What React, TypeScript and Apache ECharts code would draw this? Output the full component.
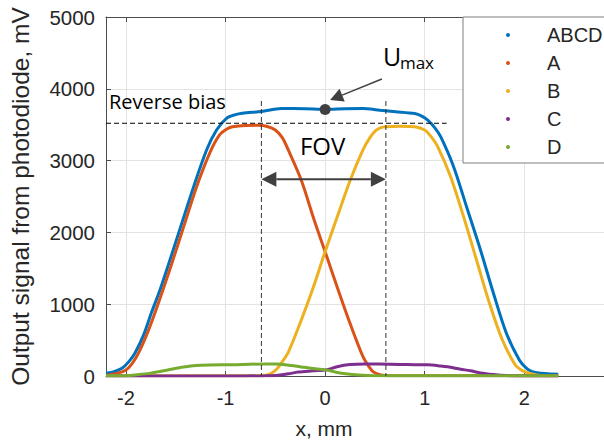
import { useEffect, useRef } from "react";
import * as echarts from "echarts";

// Signal profiles [x (mm), signal (mV)] for the summed channel and each quadrant
const seriesNames = ["ABCD", "A", "B", "C", "D"];
const seriesColors = ["#0072BD", "#D95319", "#EDB120", "#7E2F8E", "#77AC30"];

const abcd: [number, number][] = [
  [-2.2, 40], [-2.12, 60], [-2.04, 107], [-1.97, 200], [-1.91, 316], [-1.82, 580],
  [-1.745, 877], [-1.66, 1190], [-1.58, 1522], [-1.45, 2080], [-1.32, 2637],
  [-1.19, 3148], [-1.09, 3426], [-0.99, 3589], [-0.9, 3640], [-0.83, 3659],
  [-0.64, 3685], [-0.44, 3725], [-0.2, 3722], [0, 3714], [0.2, 3722], [0.38, 3725],
  [0.55, 3700], [0.71, 3681], [0.9, 3655], [0.97, 3620], [1.03, 3565], [1.1, 3460],
  [1.16, 3333], [1.29, 2915], [1.42, 2358], [1.56, 1755], [1.69, 1152], [1.82, 595],
  [1.95, 223], [2.02, 110], [2.08, 60], [2.17, 38], [2.27, 28], [2.34, 25],
];

const chA: [number, number][] = [
  [-2.2, 8], [-2.08, 40], [-2.0, 84], [-1.94, 170], [-1.875, 316], [-1.79, 580],
  [-1.71, 873], [-1.55, 1522], [-1.42, 2080], [-1.29, 2637], [-1.16, 3102],
  [-1.06, 3357], [-0.98, 3445], [-0.93, 3472], [-0.8, 3490], [-0.67, 3492],
  [-0.58, 3475], [-0.5, 3426], [-0.43, 3320], [-0.37, 3148], [-0.24, 2730],
  [-0.11, 2173], [0, 1732], [0.12, 1244], [0.25, 734], [0.38, 269], [0.44, 130],
  [0.48, 60], [0.53, 25], [0.575, 10], [0.65, 5], [1.5, 3], [2.34, 3],
];

const chB: [number, number][] = [
  [-2.2, 2], [-1.0, 2], [-0.66, 3], [-0.6, 10], [-0.55, 30], [-0.49, 90],
  [-0.43, 200], [-0.37, 330], [-0.25, 740], [-0.12, 1230], [0, 1732], [0.12, 2210],
  [0.25, 2720], [0.38, 3150], [0.45, 3320], [0.51, 3420], [0.56, 3460], [0.61, 3472],
  [0.75, 3480], [0.9, 3472], [1.0, 3426], [1.06, 3340], [1.13, 3194], [1.26, 2776],
  [1.39, 2219], [1.52, 1616], [1.65, 1013], [1.78, 501], [1.91, 153], [1.98, 75],
  [2.05, 38], [2.14, 10], [2.25, 4], [2.34, 3],
];

const chC: [number, number][] = [
  [-2.2, 0], [-1.0, 0], [-0.6, 3], [-0.47, 10], [-0.37, 30], [-0.27, 55], [-0.12, 72],
  [0.02, 88], [0.12, 130], [0.25, 160], [0.4, 168], [0.54, 166], [0.75, 160],
  [0.9, 158], [1.03, 156], [1.16, 140], [1.23, 128], [1.36, 95], [1.46, 72],
  [1.56, 42], [1.69, 20], [1.82, 6], [2.0, 0], [2.34, 0],
];

const chD: [number, number][] = [
  [-2.2, 3], [-2.0, 5], [-1.91, 14], [-1.75, 40], [-1.58, 84], [-1.42, 125],
  [-1.25, 149], [-0.93, 158], [-0.6, 167], [-0.5, 166], [-0.4, 158], [-0.3, 140],
  [-0.21, 121], [-0.1, 100], [0.02, 82], [0.12, 50], [0.25, 24], [0.38, 10],
  [0.49, 5], [1.0, 3], [2.34, 3],
];

const seriesData = [abcd, chA, chB, chC, chD];

// Annotation anchors in data units
const reverseBiasLevel = 3520;
const reverseBiasEndX = 1.22;
const fovLeft = -0.64;
const fovRight = 0.61;
const fovGuideTop = 3830;
const fovArrowLevel = 2740;
const uMaxPoint: [number, number] = [0, 3712];
const uMaxArrowFrom: [number, number] = [0.57, 4136];
const uMaxArrowTip: [number, number] = [0.05, 3844];

const SANS = "'Liberation Sans', Arial, sans-serif";
const NOTE = "'Open Sans', 'Noto Sans', sans-serif";
const INK = "#404040";

function arrowHead(tip: number[], from: number[], len: number, half: number) {
  const dx = tip[0] - from[0];
  const dy = tip[1] - from[1];
  const d = Math.hypot(dx, dy) || 1;
  const ux = dx / d;
  const uy = dy / d;
  const bx = tip[0] - ux * len;
  const by = tip[1] - uy * len;
  return {
    base: [bx, by],
    points: [
      [tip[0], tip[1]],
      [bx - uy * half, by + ux * half],
      [bx + uy * half, by - ux * half],
    ],
  };
}

export default function App() {
  const ref = useRef<HTMLDivElement>(null);

  useEffect(() => {
    if (!ref.current) return;
    const chart = echarts.init(ref.current, undefined, { renderer: "svg" });

    const axisCommon = {
      min: -2.2,
      max: 2.8,
      axisLine: { show: true, onZero: false, lineStyle: { color: "#4d4d4d", width: 1 } },
      axisTick: { show: true, inside: true, length: 5, lineStyle: { color: "#4d4d4d" } },
    };

    chart.setOption({
      animation: false,
      backgroundColor: "#ffffff",
      grid: { left: 104, top: 17, width: 510, height: 359 },
      legend: {
        orient: "vertical",
        left: 463,
        top: 17,
        icon: "circle",
        itemWidth: 4,
        itemHeight: 4,
        itemGap: 8,
        padding: [8, 50, 6, 43],
        backgroundColor: "#ffffff",
        borderColor: "#7f7f7f",
        borderWidth: 1,
        selectedMode: false,
        textStyle: { fontFamily: SANS, fontSize: 20, color: "#262626", padding: [0, 0, 0, 32] },
        data: seriesNames,
      },
      xAxis: [
        {
          ...axisCommon,
          type: "value",
          position: "bottom",
          name: "x, mm",
          nameLocation: "middle",
          nameGap: 42,
          nameTextStyle: { fontFamily: SANS, fontSize: 21, color: "#262626", padding: [0, 62, 0, 0] },
          axisLabel: {
            fontFamily: SANS,
            fontSize: 20,
            color: "#262626",
            margin: 12,
            showMinLabel: false,
            showMaxLabel: false,
            formatter: (v: number) => (Number.isInteger(v) ? String(v) : ""),
          },
          splitLine: { show: true, lineStyle: { color: "#e3e3e3", width: 1 } },
        },
        {
          ...axisCommon,
          type: "value",
          position: "top",
          axisLabel: { show: false },
          splitLine: { show: false },
        },
      ],
      yAxis: {
        type: "value",
        min: 0,
        max: 5000,
        interval: 1000,
        name: "Output signal from photodiode, mV",
        nameLocation: "middle",
        nameRotate: 90,
        nameGap: 73,
        nameTextStyle: { fontFamily: SANS, fontSize: 24.5, color: "#262626" },
        axisLine: { show: true, onZero: false, lineStyle: { color: "#4d4d4d", width: 1 } },
        axisTick: { show: true, inside: true, length: 5, lineStyle: { color: "#4d4d4d" } },
        axisLabel: {
          fontFamily: SANS,
          fontSize: 20.5,
          color: "#262626",
          margin: 11,
          formatter: (v: number) => String(v),
        },
        splitLine: { show: true, lineStyle: { color: "#e3e3e3", width: 1 } },
      },
      series: seriesNames.map((name, i) => ({
        name,
        type: "line",
        xAxisIndex: 0,
        data: seriesData[i],
        showSymbol: false,
        symbol: "none",
        smooth: 0.3,
        color: seriesColors[i],
        lineStyle: { color: seriesColors[i], width: 3 },
        emphasis: { disabled: true },
        z: 2 + i * 0.1,
      })),
    });

    const px = (p: [number, number]) =>
      chart.convertToPixel({ xAxisIndex: 0, yAxisIndex: 0 }, p) as number[];

    const rbStart = px([-2.2, reverseBiasLevel]);
    const rbEnd = px([reverseBiasEndX, reverseBiasLevel]);
    const fovLBottom = px([fovLeft, 0]);
    const fovLTop = px([fovLeft, fovGuideTop]);
    const fovRBottom = px([fovRight, 0]);
    const fovRTop = px([fovRight, fovGuideTop]);
    const fovL = px([fovLeft, fovArrowLevel]);
    const fovR = px([fovRight, fovArrowLevel]);
    const dot = px(uMaxPoint);
    const uFrom = px(uMaxArrowFrom);
    const uTip = px(uMaxArrowTip);

    const headL = arrowHead(fovL, fovR, 15, 7.5);
    const headR = arrowHead(fovR, fovL, 15, 7.5);
    const headU = arrowHead(uTip, uFrom, 13, 7);

    chart.setOption({
      graphic: [
        {
          type: "line",
          z: 10,
          shape: { x1: rbStart[0], y1: rbStart[1], x2: rbEnd[0], y2: rbEnd[1] },
          style: { stroke: "#000", lineWidth: 1, lineDash: [5, 3] },
        },
        {
          type: "line",
          z: 10,
          shape: { x1: fovLTop[0], y1: fovLTop[1], x2: fovLBottom[0], y2: fovLBottom[1] },
          style: { stroke: "#333", lineWidth: 1, lineDash: [5, 3] },
        },
        {
          type: "line",
          z: 10,
          shape: { x1: fovRTop[0], y1: fovRTop[1], x2: fovRBottom[0], y2: fovRBottom[1] },
          style: { stroke: "#333", lineWidth: 1, lineDash: [5, 3] },
        },
        {
          type: "line",
          z: 10,
          shape: { x1: headL.base[0], y1: headL.base[1], x2: headR.base[0], y2: headR.base[1] },
          style: { stroke: INK, lineWidth: 2 },
        },
        { type: "polygon", z: 10, shape: { points: headL.points }, style: { fill: INK } },
        { type: "polygon", z: 10, shape: { points: headR.points }, style: { fill: INK } },
        {
          type: "line",
          z: 10,
          shape: { x1: uFrom[0], y1: uFrom[1], x2: headU.base[0], y2: headU.base[1] },
          style: { stroke: INK, lineWidth: 1.5 },
        },
        { type: "polygon", z: 10, shape: { points: headU.points }, style: { fill: INK } },
        { type: "circle", z: 11, shape: { cx: dot[0], cy: dot[1], r: 5.5 }, style: { fill: INK } },
        {
          type: "text",
          z: 10,
          x: rbStart[0] + 3,
          y: rbStart[1] - 22,
          style: { text: "Reverse bias", fontFamily: NOTE, fontSize: 20, fill: "#000", align: "left", verticalAlign: "middle" },
        },
        {
          type: "text",
          z: 10,
          x: (fovL[0] + fovR[0]) / 2 - 1,
          y: fovL[1] - 34,
          style: { text: "FOV", fontFamily: NOTE, fontSize: 24, fill: "#000", align: "center", verticalAlign: "middle" },
        },
        {
          type: "text",
          z: 10,
          x: uFrom[0] + 1,
          y: uFrom[1] - 11,
          style: { text: "U", fontFamily: NOTE, fontSize: 25, fill: "#000", align: "left", verticalAlign: "bottom" },
        },
        {
          type: "text",
          z: 10,
          x: uFrom[0] + 18,
          y: uFrom[1] - 8,
          style: { text: "max", fontFamily: NOTE, fontSize: 17, fill: "#000", align: "left", verticalAlign: "bottom" },
        },
      ],
    });

    return () => chart.dispose();
  }, []);

  return (
    <div
      ref={ref}
      style={{ position: "absolute", left: 0, top: 0, width: 604, height: 445, overflow: "hidden" }}
    />
  );
}
